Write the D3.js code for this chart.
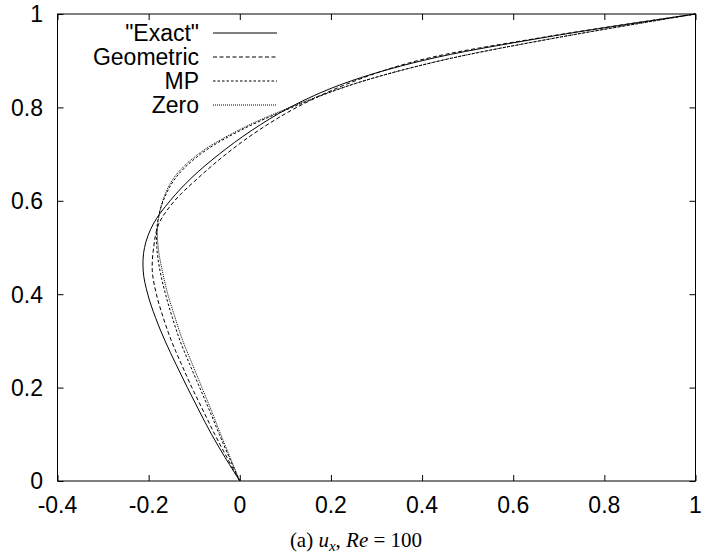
<!DOCTYPE html>
<html>
<head>
<meta charset="utf-8">
<script src="https://cdn.jsdelivr.net/npm/d3@7"></script>
<style>
  html, body { margin: 0; padding: 0; background: #fff; }
  svg { display: block; }
  .tick-label { font-family: "Liberation Sans", Arial, Helvetica, sans-serif; font-size: 23px; fill: #000; }
  .caption { font-family: "Liberation Serif", "Times New Roman", serif; font-size: 21px; fill: #000; }
</style>
</head>
<body>
<svg id="chart" width="704" height="554"></svg>
<script>
// Vertical positions along the centreline (y) at which u_x is sampled
const yLevels = [0, 0.05, 0.1, 0.15, 0.2, 0.25, 0.3, 0.35, 0.4, 0.45, 0.5,
                 0.55, 0.6, 0.65, 0.7, 0.75, 0.8, 0.85, 0.9, 0.95, 1.0];

// u_x profiles for each scheme, one value per entry of yLevels
const exactU     = [0, -0.032, -0.062, -0.089, -0.115, -0.140, -0.164, -0.185, -0.202, -0.212, -0.209,
                    -0.190, -0.153, -0.105, -0.045, 0.025, 0.110, 0.225, 0.400, 0.670, 1.0];
const geometricU = [0, -0.028, -0.055, -0.080, -0.105, -0.128, -0.150, -0.168, -0.183, -0.192, -0.189,
                    -0.178, -0.143, -0.090, -0.030, 0.040, 0.125, 0.235, 0.390, 0.665, 1.0];
const mpU        = [0, -0.023, -0.045, -0.066, -0.088, -0.110, -0.131, -0.148, -0.163, -0.175, -0.182,
                    -0.181, -0.168, -0.140, -0.086, 0.000, 0.115, 0.250, 0.440, 0.700, 1.0];
const zeroU      = [0, -0.021, -0.042, -0.062, -0.083, -0.104, -0.125, -0.142, -0.158, -0.170, -0.179,
                    -0.180, -0.169, -0.144, -0.091, -0.005, 0.110, 0.250, 0.440, 0.700, 1.0];

const seriesNames = ['"Exact"', 'Geometric', 'MP', 'Zero'];
const seriesU = [exactU, geometricU, mpU, zeroU];
const dashes = [null, "4,2.5", "2.5,2", "1,1"];

const xTicks = [-0.4, -0.2, 0, 0.2, 0.4, 0.6, 0.8, 1];
const yTicks = [0, 0.2, 0.4, 0.6, 0.8, 1];

const svg = d3.select("#chart");
const frame = { left: 57.5, right: 695.5, top: 14, bottom: 481 };

const x = d3.scaleLinear().domain([-0.4, 1]).range([frame.left, frame.right]);
const y = d3.scaleLinear().domain([0, 1]).range([frame.bottom, frame.top]);

const tickLen = 6;

// Axes: ticks point inward on all four sides, labels on bottom and left
const bottomAxis = d3.axisBottom(x).tickValues(xTicks).tickSize(-tickLen).tickFormat("");
const topAxis = d3.axisTop(x).tickValues(xTicks).tickSize(-tickLen).tickFormat("");
const leftAxis = d3.axisLeft(y).tickValues(yTicks).tickSize(-tickLen).tickFormat("");
const rightAxis = d3.axisRight(y).tickValues(yTicks).tickSize(-tickLen).tickFormat("");

function styleAxis(g) {
  g.select(".domain").remove();
  g.selectAll(".tick line").attr("stroke", "#000").attr("stroke-width", 1);
}

svg.append("g").attr("transform", `translate(0,${frame.bottom})`).call(bottomAxis).call(styleAxis);
svg.append("g").attr("transform", `translate(0,${frame.top})`).call(topAxis).call(styleAxis);
svg.append("g").attr("transform", `translate(${frame.left},0)`).call(leftAxis).call(styleAxis);
svg.append("g").attr("transform", `translate(${frame.right},0)`).call(rightAxis).call(styleAxis);

// Tick labels, plain hyphen for negatives
const fmt = v => (v === 0 || v === 1) ? String(v) : v.toFixed(1);
svg.append("g").selectAll("text").data(xTicks).join("text")
  .attr("class", "tick-label")
  .attr("x", d => x(d))
  .attr("y", 513)
  .attr("text-anchor", "middle")
  .text(fmt);

svg.append("g").selectAll("text").data(yTicks).join("text")
  .attr("class", "tick-label")
  .attr("x", 43)
  .attr("y", d => y(d) + 8.3)
  .attr("text-anchor", "end")
  .text(fmt);

// Profiles
const line = d3.line()
  .x(d => x(d[0]))
  .y(d => y(d[1]))
  .curve(d3.curveCatmullRom.alpha(0.5));

const plot = svg.append("g");
seriesU.forEach((us, i) => {
  const pts = yLevels.map((yv, k) => [us[k], yv]);
  plot.append("path")
    .datum(pts)
    .attr("fill", "none")
    .attr("stroke", "#000")
    .attr("stroke-width", 1)
    .attr("stroke-dasharray", dashes[i])
    .attr("d", line);
});

// Frame
svg.append("rect")
  .attr("x", frame.left).attr("y", frame.top)
  .attr("width", frame.right - frame.left)
  .attr("height", frame.bottom - frame.top)
  .attr("fill", "none").attr("stroke", "#000").attr("stroke-width", 1);

// Legend
const legend = svg.append("g");
const legendRows = [33, 57, 81, 105];
seriesNames.forEach((name, i) => {
  legend.append("text")
    .attr("class", "tick-label")
    .attr("x", 199)
    .attr("y", legendRows[i] + 8.3)
    .attr("text-anchor", "end")
    .text(name);
  legend.append("line")
    .attr("x1", 213).attr("x2", 277)
    .attr("y1", legendRows[i]).attr("y2", legendRows[i])
    .attr("stroke", "#000").attr("stroke-width", 1)
    .attr("stroke-dasharray", dashes[i]);
});

// Caption
const cap = svg.append("text").attr("class", "caption")
  .attr("x", 356).attr("y", 547).attr("text-anchor", "middle");
cap.append("tspan").text("(a) ");
cap.append("tspan").attr("font-style", "italic").text("u");
cap.append("tspan").attr("font-style", "italic").attr("font-size", "15px").attr("dy", 4).text("x");
cap.append("tspan").attr("dy", -4).text(", ");
cap.append("tspan").attr("font-style", "italic").text("Re");
cap.append("tspan").text(" = 100");
</script>
</body>
</html>
